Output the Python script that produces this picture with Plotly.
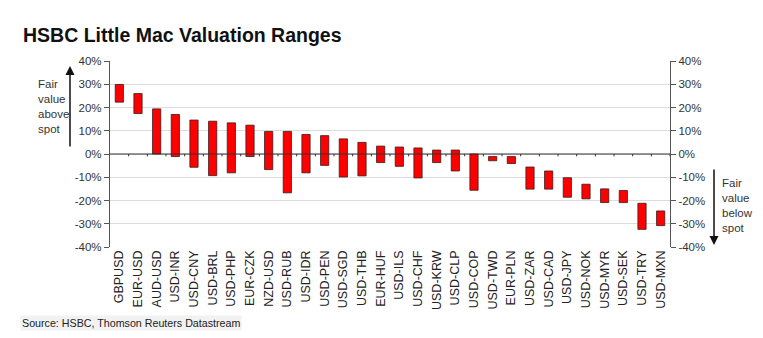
import plotly.graph_objects as go

pairs = ["GBPUSD", "EUR-USD", "AUD-USD", "USD-INR", "USD-CNY", "USD-BRL", "USD-PHP",
         "EUR-CZK", "NZD-USD", "USD-RUB", "USD-IDR", "USD-PEN", "USD-SGD", "USD-THB",
         "EUR-HUF", "USD-ILS", "USD-CHF", "USD-KRW", "USD-CLP", "USD-COP", "USD-TWD",
         "EUR-PLN", "USD-ZAR", "USD-CAD", "USD-JPY", "USD-NOK", "USD-MYR", "USD-SEK",
         "USD-TRY", "USD-MXN"]
range_high = [29.9, 26.0, 19.4, 17.0, 14.6, 14.1, 13.4, 12.4, 9.7, 9.7, 8.4, 7.9, 6.5,
              5.0, 3.4, 3.0, 2.6, 1.7, 1.7, 0.0, -1.1, -1.1, -5.6, -7.3, -10.2, -13.0,
              -15.0, -15.7, -21.2, -24.5]
range_low = [22.3, 17.4, 0.0, -1.1, -5.7, -9.3, -8.1, -1.1, -6.7, -16.7, -8.1, -4.9, -9.9,
             -9.4, -3.7, -5.3, -10.3, -3.7, -7.3, -15.6, -2.9, -4.1, -15.1, -15.1, -18.6,
             -19.3, -20.9, -20.9, -32.4, -30.8]
y_ticks = [-40, -30, -20, -10, 0, 10, 20, 30, 40]

FONT = "Liberation Sans, Arial, sans-serif"

fig = go.Figure()
fig.add_trace(go.Bar(
    x=pairs,
    y=[h - l for h, l in zip(range_high, range_low)],
    base=range_low,
    width=0.44,
    marker=dict(color="#FF0000", line=dict(color="#3a1a1a", width=0.8)),
    showlegend=False,
    hoverinfo="skip",
))
# invisible trace on right axis
fig.add_trace(go.Scatter(x=[pairs[0]], y=[0], yaxis="y2", mode="markers",
                         marker=dict(opacity=0), showlegend=False, hoverinfo="skip"))

axis_common = dict(
    range=[-40, 40], tickmode="array", tickvals=y_ticks,
    ticktext=[f"{v}%" for v in y_ticks],
    showline=True, linecolor="#555555", linewidth=1.2,
    ticks="outside", ticklen=5, tickcolor="#555555",
    tickfont=dict(family=FONT, size=11.5, color="#333333"),
    zeroline=False,
)
fig.update_layout(
    width=763, height=338,
    margin=dict(l=110, r=93, t=61, b=91),
    paper_bgcolor="white", plot_bgcolor="white",
    bargap=0.5,
    xaxis=dict(
        type="category", showline=False, showgrid=False, ticks="",
        tickangle=-90, tickfont=dict(family=FONT, size=12.5, color="#222222"),
        range=[-0.5, len(pairs) - 0.5],
    ),
    yaxis=dict(**axis_common, showgrid=True, gridcolor="#dcdcdc", gridwidth=1),
    yaxis2=dict(**axis_common, overlaying="y", side="right", showgrid=False),
    font=dict(family=FONT),
)

# zero line across plot and small category boundary ticks below it
fig.add_shape(type="line", xref="paper", yref="y", x0=0, x1=1, y0=0, y1=0,
              line=dict(color="#333333", width=1.2))
for i in range(len(pairs)):
    fig.add_shape(type="line", xref="x", yref="y", x0=i + 0.5, x1=i + 0.5, y0=0, y1=-1.0,
                  line=dict(color="#333333", width=1))

# title and source
fig.add_annotation(text="<b>HSBC Little Mac Valuation Ranges</b>", xref="paper", yref="paper",
                   x=(21 - 110) / 560, y=1 + 26 / 186, xanchor="left", yanchor="middle",
                   showarrow=False, font=dict(family=FONT, size=19.5, color="#111111"))
fig.add_annotation(text="Source: HSBC, Thomson Reuters Datastream", xref="paper", yref="paper",
                   x=(20 - 110) / 560, y=(247 - 323) / 186, xanchor="left", yanchor="middle",
                   showarrow=False, bgcolor="#f2f2f2", borderpad=1,
                   font=dict(family=FONT, size=10.7, color="#222222"))

# left indicator
fig.add_annotation(text="Fair<br>value<br>above<br>spot", xref="paper", yref="paper",
                   x=(36 - 110) / 560, y=(247 - 106) / 186, xanchor="left", yanchor="middle",
                   align="left", showarrow=False,
                   font=dict(family=FONT, size=11.5, color="#333333"))
fig.add_annotation(text="", xref="paper", yref="paper",
                   x=(70 - 110) / 560, y=(247 - 66) / 186, ax=0, ay=82,
                   showarrow=True, arrowhead=2, arrowsize=1.2, arrowwidth=1.5,
                   arrowcolor="#111111")
# right indicator
fig.add_annotation(text="Fair<br>value<br>below<br>spot", xref="paper", yref="paper",
                   x=(720 - 110) / 560, y=(247 - 205) / 186, xanchor="left", yanchor="middle",
                   align="left", showarrow=False,
                   font=dict(family=FONT, size=11.5, color="#333333"))
fig.add_annotation(text="", xref="paper", yref="paper",
                   x=(714 - 110) / 560, y=(247 - 245) / 186, ax=0, ay=-77,
                   showarrow=True, arrowhead=2, arrowsize=1.2, arrowwidth=1.5,
                   arrowcolor="#111111")

fig.write_html("out.html")
